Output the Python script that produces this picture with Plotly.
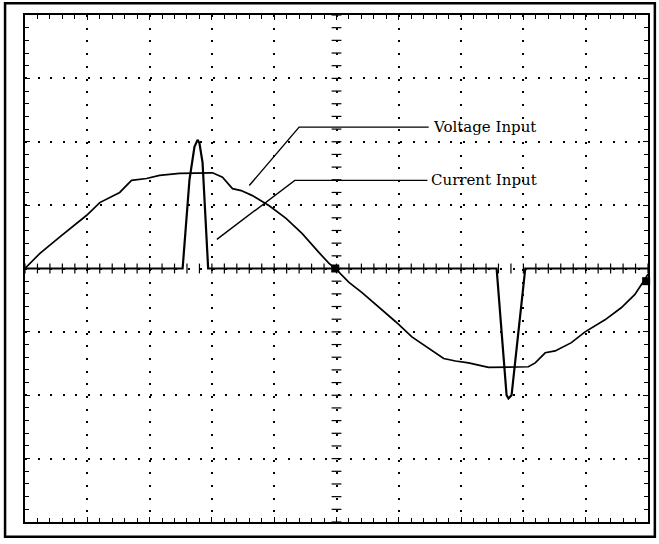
import numpy as np
import plotly.graph_objects as go

# Voltage trace (divisions)
volt_x = [0.0, 0.24, 0.56, 0.99, 1.20, 1.52, 1.71, 1.95, 2.16, 2.48, 3.01, 3.17, 3.33, 3.47,
          3.65, 3.92, 4.19, 4.45, 4.72, 4.88, 4.98,
          5.20, 5.41, 5.68, 5.95, 6.21, 6.48, 6.72, 6.91, 7.12, 7.44, 8.08, 8.19, 8.35, 8.51,
          8.77, 8.99, 9.31, 9.57, 9.79, 9.95, 10.0]
volt_y = [0.0, 0.24, 0.50, 0.84, 1.04, 1.20, 1.39, 1.42, 1.47, 1.50, 1.51, 1.44, 1.26, 1.23,
          1.15, 0.99, 0.79, 0.55, 0.25, 0.08, 0.0,
          -0.22, -0.38, -0.61, -0.84, -1.08, -1.26, -1.42, -1.46, -1.49, -1.56, -1.55, -1.49, -1.33, -1.30,
          -1.17, -1.00, -0.81, -0.62, -0.41, -0.17, -0.09]

# Current trace (divisions)
curr_x = [0.0, 2.53, 2.64, 2.72, 2.77, 2.80, 2.85, 2.91, 2.94, 7.57, 7.73, 7.76, 7.81, 8.03, 10.0]
curr_y = [0.0, 0.0, 1.40, 1.92, 2.03, 1.98, 1.67, 0.61, 0.0, 0.0, -2.00, -2.05, -2.00, 0.0, 0.0]

# Trigger / marker squares
mark_x = [4.98, 9.97]
mark_y = [0.0, -0.2]

labels = ["Voltage Input", "Current Input"]
label_lines_x = [[3.60, 4.40, 6.48], [3.08, 4.33, 6.46]]
label_lines_y = [[1.31, 2.23, 2.23], [0.46, 1.39, 1.39]]

ticks_h = np.round(np.arange(0, 10.0001, 0.2), 2)
ticks_v = np.round(np.arange(-4, 4.0001, 0.2), 2)

fig = go.Figure()

# center axis tick crosses
fig.add_trace(go.Scatter(x=ticks_h, y=[0]*len(ticks_h), mode="markers",
                         marker=dict(symbol="line-ns", size=7, line=dict(width=1.2, color="black")),
                         hoverinfo="skip", showlegend=False))
fig.add_trace(go.Scatter(x=[5]*len(ticks_v), y=ticks_v, mode="markers",
                         marker=dict(symbol="line-ew", size=7, line=dict(width=1.2, color="black")),
                         hoverinfo="skip", showlegend=False))

fig.add_trace(go.Scatter(x=curr_x, y=curr_y, mode="lines", line=dict(color="black", width=2.2),
                         name="Current Input", showlegend=False))
fig.add_trace(go.Scatter(x=volt_x, y=volt_y, mode="lines", line=dict(color="black", width=1.7),
                         name="Voltage Input", showlegend=False))
fig.add_trace(go.Scatter(x=mark_x, y=mark_y, mode="markers",
                         marker=dict(symbol="square", size=8, color="black"),
                         showlegend=False, hoverinfo="skip", cliponaxis=False))

for lx, ly, lab in zip(label_lines_x, label_lines_y, labels):
    fig.add_trace(go.Scatter(x=lx, y=ly, mode="lines", line=dict(color="black", width=1.4),
                             showlegend=False, hoverinfo="skip"))
    fig.add_annotation(x=lx[-1] + 0.03, y=ly[-1], text=lab, showarrow=False,
                       xanchor="left", yanchor="middle",
                       font=dict(family="DejaVu Serif", size=15, color="black"))

axis_common = dict(showline=True, linecolor="black", linewidth=2, mirror="allticks",
                   ticks="inside", ticklen=5, tickcolor="black", showticklabels=False,
                   showgrid=True, gridcolor="black", gridwidth=1.6,
                   zeroline=False, dtick=1,
                   minor=dict(ticks="inside", ticklen=4, tickcolor="black", dtick=0.2, showgrid=False))

fig.update_xaxes(range=[0, 10], griddash="2px,10.7px", **axis_common)
fig.update_yaxes(range=[-4, 4], griddash="2px,10.5px", **axis_common)

fig.add_shape(type="rect", xref="paper", yref="paper", x0=-0.032, x1=1.011, y0=-0.029, y1=1.023,
              line=dict(color="black", width=2.5))

fig.update_layout(width=659, height=544, margin=dict(l=25, r=9, t=15, b=22),
                  plot_bgcolor="white", paper_bgcolor="white")

fig.write_html("out.html")
